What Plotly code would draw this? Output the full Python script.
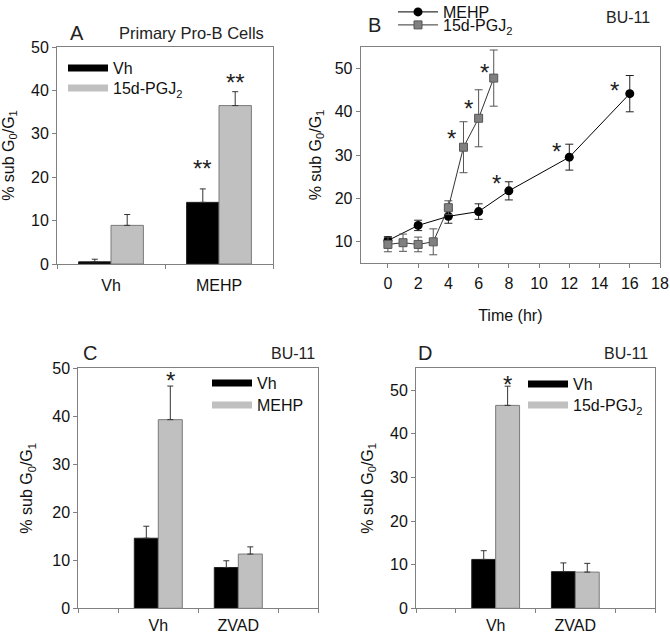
import plotly.graph_objects as go

# ---------------- data ----------------
# Panel A: Primary Pro-B cells
a_categories = ["Vh", "MEHP"]
a_vh = [0.5, 14.2]
a_vh_err = [0.6, 3.1]
a_pgj = [8.9, 36.5]
a_pgj_err = [2.5, 3.2]
a_star_x = [1.35, 1.65]
a_star_y = [22.8, 42.6]
a_star_text = ["**", "**"]

# Panel B: BU-11 time course
b_mehp_time = [0, 2, 4, 6, 8, 12, 16]
b_mehp = [10.2, 13.7, 15.8, 16.9, 21.7, 29.5, 44.2]
b_mehp_err = [0.9, 1.2, 1.6, 1.8, 2.1, 3.0, 4.2]
b_pgj_time = [0, 1, 2, 3, 4, 5, 6, 7]
b_pgj = [9.3, 9.7, 9.3, 9.9, 17.8, 31.8, 38.5, 47.8]
b_pgj_err = [1.7, 2.0, 1.7, 3.0, 1.6, 5.9, 6.6, 6.5]
b_star_x = [4.2, 5.36, 6.36, 7.2, 11.15, 15.0]
b_star_y = [34.5, 41.5, 49.8, 24.1, 31.5, 45.7]
b_xticks = [0, 2, 4, 6, 8, 10, 12, 14, 16, 18]

# Panel C: BU-11, MEHP +/- ZVAD
c_categories = ["Vh", "ZVAD"]
c_vh = [14.6, 8.5]
c_vh_err = [2.5, 1.4]
c_mehp = [39.3, 11.3]
c_mehp_err = [7.0, 1.5]
c_star_x = [1.15]
c_star_y = [48.1]

# Panel D: BU-11, 15d-PGJ2 +/- ZVAD
d_categories = ["Vh", "ZVAD"]
d_vh = [11.2, 8.4]
d_vh_err = [2.0, 2.0]
d_pgj = [46.5, 8.3]
d_pgj_err = [4.4, 2.0]
d_star_x = [1.15]
d_star_y = [52.0]

PGJ = "15d-PGJ<sub>2</sub>"
YT = "% sub G<sub>0</sub>/G<sub>1</sub>"
FONT = "Liberation Sans, Arial, sans-serif"
GRAY = "#c0c0c0"
EDGE = "#7a7a7a"
AX = "#808080"
TXT = "#111111"
FS = 16

W, H, T = 670, 634, 8   # figure size and top margin (px)


def PX(x):
    return x / W


def PY(y):
    return 1 - (y - T) / (H - T)


fig = go.Figure()


def err(arr):
    return dict(type="data", symmetric=False, array=arr, arrayminus=[0] * len(arr),
                color="#333333", thickness=1, width=3)


def bar_panel(cats, s1, e1, s2, e2, n1, n2, xa, ya, leg1, leg2, offset):
    pos = [i + offset for i in range(len(cats))]
    fig.add_trace(go.Bar(x=pos, y=s1, error_y=err(e1), marker=dict(color="black", line=dict(color="#222", width=1)),
                         showlegend=False, xaxis=xa, yaxis=ya, name=n1))
    fig.add_trace(go.Bar(x=pos, y=s2, error_y=err(e2), marker=dict(color=GRAY, line=dict(color=EDGE, width=1)),
                         showlegend=False, xaxis=xa, yaxis=ya, name=n2))
    # legend entries (wide swatches)
    fig.add_trace(go.Scatter(x=[None], y=[None], mode="lines", line=dict(color="black", width=7),
                             name=n1, legend=leg1, xaxis=xa, yaxis=ya))
    fig.add_trace(go.Scatter(x=[None], y=[None], mode="lines", line=dict(color=GRAY, width=7),
                             name=n2, legend=leg2, xaxis=xa, yaxis=ya))
    return pos


a_pos = bar_panel(a_categories, a_vh, a_vh_err, a_pgj, a_pgj_err, "Vh", PGJ, "x", "y", "legend", "legend2", 0.5)
c_pos = bar_panel(c_categories, c_vh, c_vh_err, c_mehp, c_mehp_err, "Vh", "MEHP", "x3", "y3", "legend5", "legend6", 1)
d_pos = bar_panel(d_categories, d_vh, d_vh_err, d_pgj, d_pgj_err, "Vh", PGJ, "x4", "y4", "legend7", "legend8", 1)

# Panel B lines
fig.add_trace(go.Scatter(x=b_mehp_time, y=b_mehp, mode="lines+markers", name="MEHP",
                         line=dict(color="black", width=1),
                         marker=dict(symbol="circle", size=9, color="black"),
                         error_y=dict(type="data", array=b_mehp_err, color="#222", thickness=1, width=4),
                         xaxis="x2", yaxis="y2", legend="legend3"))
fig.add_trace(go.Scatter(x=b_pgj_time, y=b_pgj, mode="lines+markers", name=PGJ,
                         line=dict(color="#333333", width=1),
                         marker=dict(symbol="square", size=8, color="#808080", line=dict(color="#555", width=1)),
                         error_y=dict(type="data", array=b_pgj_err, color="#555", thickness=1, width=4),
                         xaxis="x2", yaxis="y2", legend="legend4"))

ann = []


def stars(xs, ys, xa, ya, texts=None):
    for i, (x, y) in enumerate(zip(xs, ys)):
        t = texts[i] if texts else "*"
        ann.append(dict(x=x, y=y, xref=xa, yref=ya, text=t, showarrow=False,
                        font=dict(size=24, color="#222", family=FONT), yshift=-3))


stars(a_star_x, a_star_y, "x", "y", a_star_text)
stars(b_star_x, b_star_y, "x2", "y2")
stars(c_star_x, c_star_y, "x3", "y3")
stars(d_star_x, d_star_y, "x4", "y4")


def lab(text, x, y, size=20, anchor="center"):
    ann.append(dict(x=PX(x), y=PY(y), xref="paper", yref="paper", text=text, showarrow=False,
                    xanchor=anchor, yanchor="middle", font=dict(size=size, color="#222", family=FONT)))


lab("A", 77, 33)
lab("Primary Pro-B Cells", 117, 33, 16.5, "left")
lab("B", 375, 25)
lab("BU-11", 652, 17, 16, "right")
lab("C", 90, 353)
lab("BU-11", 317, 353, 16, "right")
lab("D", 425, 353)
lab("BU-11", 650, 353, 16, "right")

base = dict(showline=True, linecolor=AX, linewidth=1, mirror=True, showgrid=False, zeroline=False,
            automargin=False, ticks="outside", ticklen=4, tickcolor=AX,
            tickfont=dict(size=FS, color=TXT, family=FONT))


def cat_x(dom, pos, cats, rng, bounds, anchor, standoff):
    d = dict(base)
    d.update(domain=[PX(dom[0]), PX(dom[1])], range=rng, tickmode="array", tickvals=pos, ticktext=cats, ticks="",
             ticklabelstandoff=standoff, anchor=anchor,
             minor=dict(tickmode="array", tickvals=bounds, ticks="outside", ticklen=4, tickcolor=AX, showgrid=False))
    return d


def num_y(dom, rng, tv, anchor, standoff):
    d = dict(base)
    d.update(domain=[PY(dom[1]), PY(dom[0])], range=rng, tickmode="array", tickvals=tv, anchor=anchor,
             title=dict(text=YT, font=dict(size=FS, color=TXT, family=FONT), standoff=standoff))
    return d


def leg(x, y):
    return dict(x=PX(x), y=PY(y), xanchor="left", yanchor="middle", bgcolor="rgba(0,0,0,0)", itemwidth=40,
                font=dict(size=FS, color=TXT, family=FONT))


fig.update_layout(
    width=W, height=H, margin=dict(l=0, r=0, t=T, b=0, autoexpand=False),
    paper_bgcolor="white", plot_bgcolor="white",
    barmode="group", bargap=0.4, bargroupgap=0,
    font=dict(family=FONT, color=TXT),
    xaxis=cat_x([57, 273], a_pos, a_categories, [0, 2], [0, 1, 2], "y", 7),
    yaxis=num_y([47, 264], [0, 50], [0, 10, 20, 30, 40, 50], "x", 17),
    xaxis2=dict(base, domain=[PX(360.7), PX(660)], range=[-1.8, 18], tickmode="array", tickvals=b_xticks,
                anchor="y2", ticklabelstandoff=2,
                title=dict(text="Time (hr)", font=dict(size=FS, color=TXT, family=FONT), standoff=18)),
    yaxis2=num_y([47, 263], [5, 55], [10, 20, 30, 40, 50], "x2", 9),
    xaxis3=cat_x([78.3, 318.3], c_pos, c_categories, [0, 3], [0, 0.5, 1.5, 2.5, 3], "y3", 2),
    yaxis3=num_y([368.3, 608.3], [0, 50], [0, 10, 20, 30, 40, 50], "x3", 15),
    xaxis4=cat_x([416, 655], d_pos, d_categories, [0, 3], [0, 0.5, 1.5, 2.5, 3], "y4", 2),
    yaxis4=num_y([368.3, 608.3], [0, 55], [0, 10, 20, 30, 40, 50], "x4", 12),
    legend=leg(63, 68),
    legend2=leg(63, 88),
    legend3=leg(393, 12),
    legend4=leg(393, 25),
    legend5=leg(207, 383),
    legend6=leg(207, 405),
    legend7=leg(523, 384),
    legend8=leg(523, 405),
    annotations=ann,
)

fig.write_html("out.html", config={"displayModeBar": False},
               post_script="document.body.style.margin='0';")
